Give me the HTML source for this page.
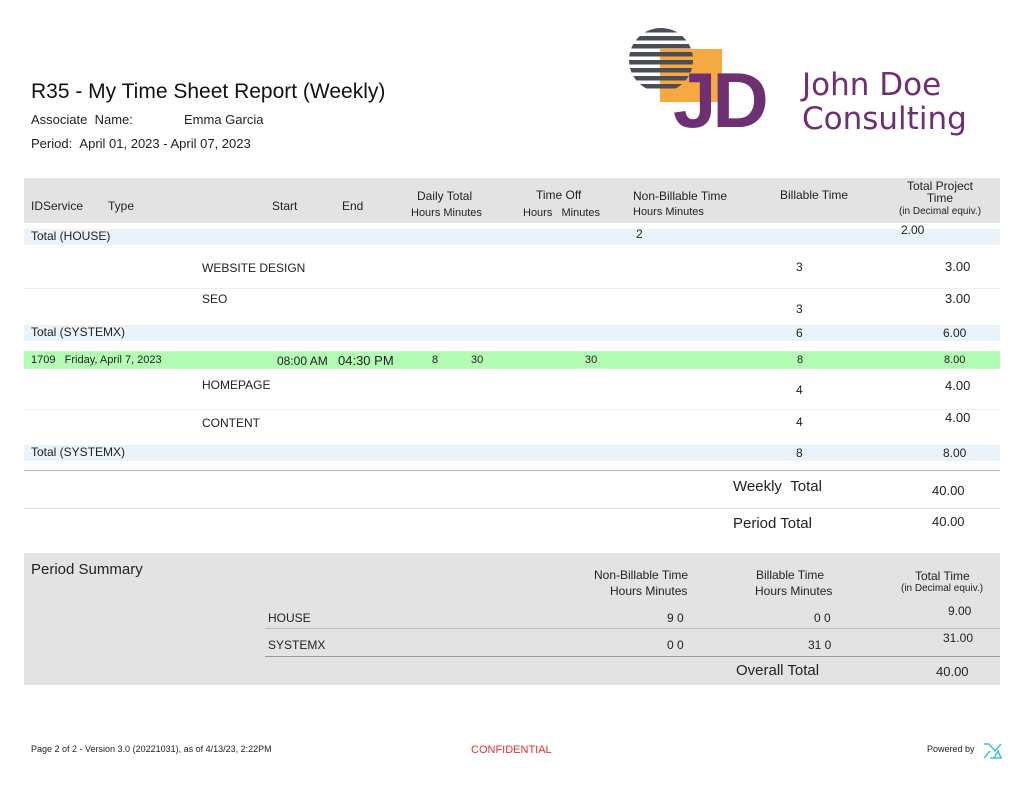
<!DOCTYPE html><html><head><style>
body{margin:0;width:1024px;height:791px;background:#fff;font-family:"Liberation Sans",sans-serif;color:#222;position:relative;overflow:hidden}
.a{position:absolute;white-space:nowrap;line-height:1}
.b{position:absolute}
.s{font-size:11px}.m{font-size:12px}.n{font-size:13px}
</style></head><body>
<div class="a" style="left:31px;top:81px;font-size:21px;color:#111">R35 - My Time Sheet Report (Weekly)</div>
<div class="a n" style="left:31px;top:113px">Associate &nbsp;Name:</div>
<div class="a n" style="left:184px;top:113px">Emma Garcia</div>
<div class="a n" style="left:31px;top:137px">Period: &nbsp;April 01, 2023 - April 07, 2023</div>
<!-- logo -->
<svg class="b" style="left:625px;top:25px" width="380" height="115">
<defs><clipPath id="c"><circle cx="36" cy="35" r="32"/></clipPath></defs>
<rect x="35" y="24" width="62" height="53" fill="#f7a941"/>
<g fill="#4a4d55" clip-path="url(#c)">
<rect x="0" y="3" width="72" height="4.5" rx="2"/><rect x="0" y="11" width="72" height="4.5" rx="2"/><rect x="0" y="19" width="72" height="4.5" rx="2"/><rect x="0" y="27" width="72" height="4.5" rx="2"/><rect x="0" y="35" width="72" height="4.5" rx="2"/><rect x="0" y="43" width="72" height="4.5" rx="2"/><rect x="0" y="51" width="72" height="4.5" rx="2"/><rect x="0" y="59" width="72" height="4.5" rx="2"/>
</g>
<text x="48" y="102" font-family="Liberation Sans" font-weight="bold" font-size="78" fill="#6e2f73" letter-spacing="-4">JD</text>
<text x="177" y="70" font-family="DejaVu Sans" font-size="31" fill="#6e2f73">John Doe</text>
<text x="177" y="104" font-family="DejaVu Sans" font-size="31" fill="#6e2f73">Consulting</text>
</svg>
<!-- header -->
<div class="b" style="left:24px;top:178px;width:976px;height:45px;background:#e3e3e3"></div>
<div class="a m" style="left:31px;top:200px">IDService</div>
<div class="a m" style="left:108px;top:200px">Type</div>
<div class="a m" style="left:272px;top:200px">Start</div>
<div class="a m" style="left:342px;top:200px">End</div>
<div class="a m" style="left:417px;top:190px">Daily Total</div>
<div class="a s" style="left:411px;top:208px">Hours Minutes</div>
<div class="a m" style="left:536px;top:189px">Time Off</div>
<div class="a s" style="left:523px;top:208px">Hours &nbsp;&nbsp;Minutes</div>
<div class="a m" style="left:633px;top:190px">Non-Billable Time</div>
<div class="a s" style="left:633px;top:207px">Hours Minutes</div>
<div class="a m" style="left:780px;top:189px">Billable Time</div>
<div class="a m" style="left:880px;top:180px;width:120px;text-align:center;line-height:12px">Total Project<br>Time<br><span style="font-size:10px">(in Decimal equiv.)</span></div>
<!-- rows -->
<div class="b" style="left:24px;top:229px;width:976px;height:16px;background:#ebf3fa"></div>
<div class="a m" style="left:31px;top:230px">Total (HOUSE)</div>
<div class="a m" style="left:636px;top:228px">2</div>
<div class="a m" style="left:901px;top:224px">2.00</div>
<div class="a m" style="left:202px;top:262px">WEBSITE DESIGN</div>
<div class="a m" style="left:796px;top:261px">3</div>
<div class="a n" style="left:945px;top:260px">3.00</div>
<div class="b" style="left:24px;top:288px;width:976px;height:1px;background:#eee"></div>
<div class="a m" style="left:202px;top:293px">SEO</div>
<div class="a m" style="left:796px;top:303px">3</div>
<div class="a n" style="left:945px;top:292px">3.00</div>
<div class="b" style="left:24px;top:325px;width:976px;height:16px;background:#ebf3fa"></div>
<div class="a m" style="left:31px;top:326px">Total (SYSTEMX)</div>
<div class="a m" style="left:796px;top:327px">6</div>
<div class="a m" style="left:943px;top:327px">6.00</div>
<div class="b" style="left:24px;top:351px;width:976px;height:18px;background:#b3fcb3"></div>
<div class="a s" style="left:31px;top:355px">1709 &nbsp;&nbsp;Friday, April 7, 2023</div>
<div class="a m" style="left:277px;top:355px">08:00 AM</div>
<div class="a n" style="left:338px;top:354px">04:30 PM</div>
<div class="a s" style="left:432px;top:355px">8</div>
<div class="a s" style="left:471px;top:355px">30</div>
<div class="a s" style="left:585px;top:355px">30</div>
<div class="a s" style="left:797px;top:355px">8</div>
<div class="a s" style="left:944px;top:355px">8.00</div>
<div class="a m" style="left:202px;top:379px">HOMEPAGE</div>
<div class="a m" style="left:796px;top:384px">4</div>
<div class="a n" style="left:945px;top:379px">4.00</div>
<div class="b" style="left:24px;top:409px;width:976px;height:1px;background:#eee"></div>
<div class="a m" style="left:202px;top:417px">CONTENT</div>
<div class="a m" style="left:796px;top:416px">4</div>
<div class="a n" style="left:945px;top:411px">4.00</div>
<div class="b" style="left:24px;top:445px;width:976px;height:16px;background:#ebf3fa"></div>
<div class="a m" style="left:31px;top:446px">Total (SYSTEMX)</div>
<div class="a m" style="left:796px;top:447px">8</div>
<div class="a m" style="left:943px;top:447px">8.00</div>
<div class="b" style="left:24px;top:470px;width:976px;height:1px;background:#bbb"></div>
<div class="a" style="left:733px;top:479px;font-size:15px">Weekly &nbsp;Total</div>
<div class="a n" style="left:932px;top:484px">40.00</div>
<div class="b" style="left:24px;top:508px;width:976px;height:1px;background:#e5e5e5"></div>
<div class="a" style="left:733px;top:516px;font-size:15px">Period Total</div>
<div class="a n" style="left:932px;top:515px">40.00</div>
<!-- summary -->
<div class="b" style="left:24px;top:553px;width:976px;height:132px;background:#e3e3e3"></div>
<div class="a" style="left:31px;top:562px;font-size:15px">Period Summary</div>
<div class="a m" style="left:594px;top:569px">Non-Billable Time</div>
<div class="a m" style="left:610px;top:585px">Hours Minutes</div>
<div class="a m" style="left:756px;top:569px">Billable Time</div>
<div class="a m" style="left:755px;top:585px">Hours Minutes</div>
<div class="a m" style="left:915px;top:570px">Total Time</div>
<div class="a" style="left:901px;top:584px;font-size:10px">(in Decimal equiv.)</div>
<div class="a m" style="left:268px;top:612px">HOUSE</div>
<div class="a m" style="left:667px;top:612px">9 0</div>
<div class="a m" style="left:814px;top:612px">0 0</div>
<div class="a m" style="left:948px;top:605px">9.00</div>
<div class="b" style="left:265px;top:628px;width:735px;height:1px;background:#bbb"></div>
<div class="a m" style="left:268px;top:639px">SYSTEMX</div>
<div class="a m" style="left:667px;top:639px">0 0</div>
<div class="a m" style="left:808px;top:639px">31 0</div>
<div class="a m" style="left:943px;top:632px">31.00</div>
<div class="b" style="left:265px;top:656px;width:735px;height:1px;background:#999"></div>
<div class="a" style="left:736px;top:663px;font-size:15px">Overall Total</div>
<div class="a n" style="left:936px;top:665px">40.00</div>
<!-- footer -->
<div class="a" style="left:31px;top:745px;font-size:9px">Page 2 of 2 - Version 3.0 (20221031), as of 4/13/23, 2:22PM</div>
<div class="a" style="left:471px;top:745px;font-size:11px;color:#e53030">CONFIDENTIAL</div>
<div class="a" style="left:927px;top:745px;font-size:9px">Powered by</div>
<svg class="b" style="left:982px;top:741px" width="20" height="20"><path d="M2 3h5l6 7l6-7M2 17l6-7 M8 17h3M12 17l4-7 3 7z" stroke="#3cc3c8" stroke-width="1.5" fill="none"/></svg>
</body></html>
